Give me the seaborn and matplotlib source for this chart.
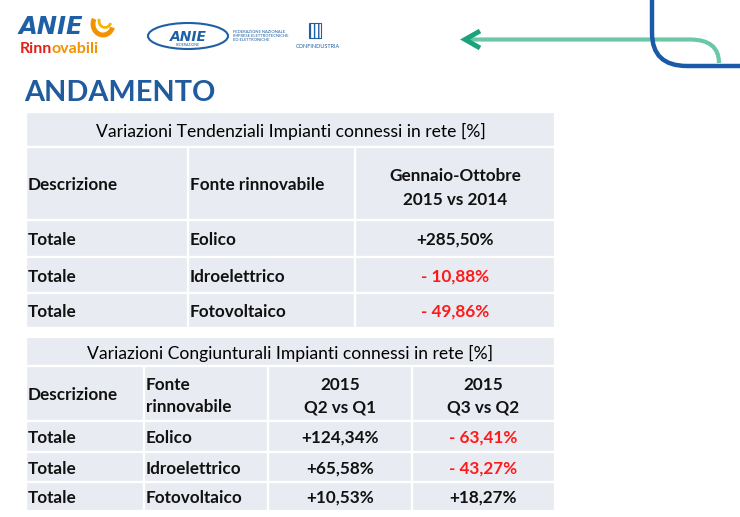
import matplotlib.pyplot as plt
import seaborn as sns
from matplotlib.patches import Rectangle, Ellipse, Arc, PathPatch
from matplotlib.path import Path

# Data
descrizione = ["Totale", "Totale", "Totale"]
fonti = ["Eolico", "Idroelettrico", "Fotovoltaico"]
tendenziali = [285.50, -10.88, -49.86]
q2_vs_q1 = [124.34, 65.58, 10.53]
q3_vs_q2 = [-63.41, -43.27, 18.27]

title_1 = "Variazioni Tendenziali Impianti connessi in rete [%]"
title_2 = "Variazioni Congiunturali Impianti connessi in rete [%]"
header_1 = ["Descrizione", "Fonte rinnovabile", "Gennaio-Ottobre\n2015 vs 2014"]
header_2 = ["Descrizione", "Fonte\nrinnovabile", "2015\nQ2 vs Q1", "2015\nQ3 vs Q2"]

sns.set_theme(style="white")
plt.rcParams["font.family"] = ["Lato", "DejaVu Sans"]

CELL = "#e9ebf2"
BLUE = "#1f5fa5"
RED = "#ff1a1a"
INK = "#111111"
FS = 12.3


def fmt(v):
    s = f"{abs(v):.2f}".replace(".", ",") + "%"
    return ("+" + s) if v >= 0 else ("- " + s)


def cell(ax, x0, x1, y0, y1):
    ax.add_patch(Rectangle((x0, y0), x1 - x0, y1 - y0, facecolor=CELL,
                           edgecolor="white", linewidth=1.6))


def put(ax, x, y, s, ha="left", color=INK, ls=1.5):
    ax.text(x, y, s, fontsize=FS, fontweight="bold", ha=ha, va="center_baseline",
            color=color, linespacing=ls)


fig = plt.figure(figsize=(7.4, 5.17), dpi=100)
ax = fig.add_axes([0, 0, 1, 1])
ax.set_xlim(0, 740)
ax.set_ylim(517, 0)
ax.axis("off")

# ---- logos / decoration ----
ax.text(19, 34, "ANIE", fontsize=17.5, fontweight="bold", style="italic",
        color=BLUE, family="DejaVu Sans", va="baseline")
ax.add_patch(Arc((103, 24), 20, 22, theta1=20, theta2=210, color="#f39200", lw=3.5))
ax.add_patch(Arc((105, 21), 12, 13, theta1=20, theta2=200, color="#f7b500", lw=2))
ax.text(20, 53, "Rinn", fontsize=11.5, fontweight="bold", color="#e2231a", va="baseline")
ax.text(52, 53, "ovabili", fontsize=11.5, fontweight="bold", color="#f39200", va="baseline")

ax.add_patch(Ellipse((188, 36), 80, 26, facecolor="none", edgecolor=BLUE, lw=1.5))
ax.text(188, 37, "ANIE", fontsize=10, fontweight="bold", style="italic", color=BLUE,
        ha="center", va="center", family="DejaVu Sans")
ax.text(188, 45.5, "FEDERAZIONE", fontsize=2.5, color=BLUE, ha="center", va="center")
ax.text(233, 36, "FEDERAZIONE NAZIONALE\nIMPRESE ELETTROTECNICHE\nED ELETTRONICHE",
        fontsize=3.0, color=BLUE, ha="left", va="center", linespacing=1.15)
ax.add_patch(Rectangle((309, 23), 12, 15, facecolor="none", edgecolor=BLUE, lw=0.8,
                       hatch="||||"))
ax.text(318, 47, "CONFINDUSTRIA", fontsize=4, color=BLUE, ha="center", va="center")

green_path = Path([(470, 39.5), (690, 39.5), (719, 39.5), (719, 63)],
                  [Path.MOVETO, Path.LINETO, Path.CURVE3, Path.CURVE3])
ax.add_patch(PathPatch(green_path, facecolor="none", edgecolor="#6cc7a6", lw=3))
ax.plot([480, 465, 480], [31, 39.5, 48], color="#1aa37a", lw=3.5,
        solid_joinstyle="miter", solid_capstyle="butt")
blue_path = Path([(652, 0), (652, 33), (652, 66), (687, 66), (740, 66)],
                 [Path.MOVETO, Path.LINETO, Path.CURVE3, Path.CURVE3, Path.LINETO])
ax.add_patch(PathPatch(blue_path, facecolor="none", edgecolor="#1b5aa6", lw=3.2))

ax.text(24, 101, "ANDAMENTO", fontsize=20.8, fontweight="bold", color="#1f5b9d",
        va="baseline")

# ---- table 1 ----
L, R = 26, 555
cols1 = [L, 188, 355, R]
rows1 = [112, 147, 220, 257, 293, 328]
cell(ax, L, R, rows1[0], rows1[1])
ax.text((L + R) / 2, (rows1[0] + rows1[1]) / 2, title_1, fontsize=12.6,
        ha="center", va="center_baseline", color="#000000")
for r in range(1, 5):
    for c in range(3):
        cell(ax, cols1[c], cols1[c + 1], rows1[r], rows1[r + 1])
hy = (rows1[1] + rows1[2]) / 2
put(ax, cols1[0] + 2, hy, header_1[0])
put(ax, cols1[1] + 2, hy, header_1[1])
put(ax, (cols1[2] + R) / 2, hy - 1, header_1[2], ha="center", ls=1.6)
for i in range(3):
    y = (rows1[i + 2] + rows1[i + 3]) / 2
    put(ax, cols1[0] + 2, y, descrizione[i])
    put(ax, cols1[1] + 2, y, fonti[i])
    v = tendenziali[i]
    put(ax, (cols1[2] + R) / 2, y, fmt(v), ha="center", color=RED if v < 0 else INK)

# ---- table 2 ----
cols2 = [L, 144, 268, 412, R]
rows2 = [337, 366, 421, 452, 482, 511]
cell(ax, L, R, rows2[0], rows2[1])
ax.text((L + R) / 2, (rows2[0] + rows2[1]) / 2, title_2, fontsize=12.6,
        ha="center", va="center_baseline", color="#000000")
for r in range(1, 5):
    for c in range(4):
        cell(ax, cols2[c], cols2[c + 1], rows2[r], rows2[r + 1])
hy = (rows2[1] + rows2[2]) / 2
put(ax, cols2[0] + 2, hy, header_2[0])
put(ax, cols2[1] + 2, hy - 1.5, header_2[1], ls=1.45)
for c in (2, 3):
    put(ax, (cols2[c] + cols2[c + 1]) / 2, hy - 1.5, header_2[c], ha="center", ls=1.45)
for i in range(3):
    y = (rows2[i + 2] + rows2[i + 3]) / 2
    put(ax, cols2[0] + 2, y, descrizione[i])
    put(ax, cols2[1] + 2, y, fonti[i])
    for c, vals in ((2, q2_vs_q1), (3, q3_vs_q2)):
        v = vals[i]
        put(ax, (cols2[c] + cols2[c + 1]) / 2, y, fmt(v), ha="center",
            color=RED if v < 0 else INK)

fig.savefig("out.png", dpi=100)
